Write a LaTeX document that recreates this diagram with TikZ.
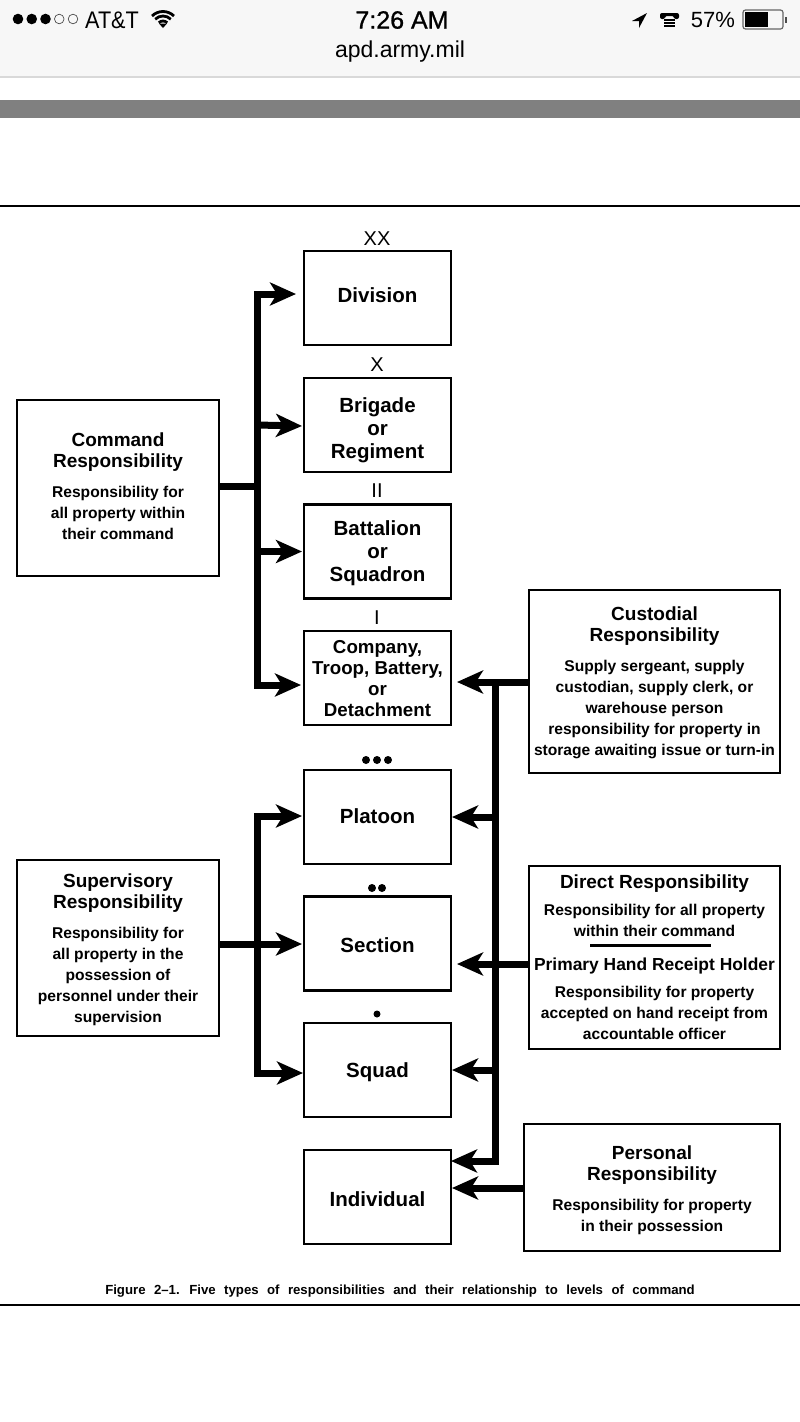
\documentclass[tikz,border=0pt]{standalone}
\usepackage{fontspec}
\setmainfont{Liberation Sans}
\newfontfamily\capfont[WordSpace=2.3]{Liberation Sans}
\newfontfamily\clockfont[FakeBold=1]{Liberation Sans}
\usetikzlibrary{positioning,arrows.meta}
\newcommand{\hd}{\fontsize{19}{21}\selectfont\bfseries}
\newcommand{\nudgedown}[1]{\rule{0pt}{#1pt}}
\newcommand{\nudgeup}[1]{\rule[-#1pt]{0pt}{#1pt}}
\begin{document}
\begin{tikzpicture}[x=1pt,y=-1pt,
  arr/.style={-{Stealth[length=26pt,width=23pt,inset=7pt]},line width=7pt},
  bar/.style={line width=7pt},
  level/.style={draw,line width=2.5pt,minimum width=147pt,minimum height=94pt,inner sep=0pt,outer sep=0pt,align=center,font=\fontsize{20.5}{23}\selectfont\bfseries},
  info/.style={draw,line width=2.5pt,inner sep=0pt,outer sep=0pt,align=center,font=\fontsize{15.6}{21}\selectfont\bfseries},
  rank/.style={font=\fontsize{20}{22}\selectfont},
  dot/.style={circle,fill,inner sep=0pt,minimum size=8pt},
  status/.style={inner sep=0pt}]
\useasboundingbox (0,0) rectangle (800,1422);
\fill[white] (0,0) rectangle (800,1422);
\fill[black!3] (0,0) rectangle (800,76);
\draw[black!15,line width=1.5pt] (0,77) -- (800,77);
\fill[black!50] (0,100) rectangle (800,118);
\draw[line width=2.5pt] (0,206) -- (800,206);
\draw[line width=2.5pt] (0,1305) -- (800,1305);
\foreach \i in {18,31.75,45.5} \fill (\i,19) circle (5.3);
\foreach \i in {59.25,73} \draw[line width=0.7pt,black!70] (\i,19) circle (4.8);
\node[status,font=\fontsize{24}{24}\selectfont,xscale=0.9] (carrier) at (112,20) {AT\&T};
\foreach \r in {6,11,15.5} \draw[line width=2.8pt] ([shift={(225:\r)}]163,27) arc[start angle=225,end angle=315,radius=\r];
\fill (163,28) -- (159,23.5) -- (167,23.5) -- cycle;
\node[status,font=\clockfont\fontsize{25}{25}\selectfont] (clock) at (402,20) {7:26 AM};
\node[status,font=\fontsize{23}{23}\selectfont] (site) at (400,52) {apd.army.mil};
\fill (647,13) -- (632,21) -- (639,21) -- (639,28) -- cycle;
\fill[rounded corners=2pt] (660,19) -- (660,13) -- (679,13) -- (679,19) -- (674,19) -- (674,16) -- (665,16) -- (665,19) -- cycle;
\fill (664,19) rectangle (675,27);
\foreach \i in {21.5,24.5} \draw[white,line width=0.8pt] (664,\i) -- (675,\i);
\node[status,font=\fontsize{22}{22}\selectfont] (charge) at (713,20) {57\%};
\draw[black!60,line width=1.2pt,rounded corners=2.5pt] (743,10) rectangle (783,29);
\fill (745,12) rectangle (768,27);
\fill[black!70] (785,17) rectangle (787,23);

\node[level] (division) at (377.5,298) {Division\nudgeup{6}};
\node[level] (brigade) at (377.5,425) {\nudgedown{25}Brigade\\or\\Regiment};
\node[level] (battalion) at (377.5,551.5) {\nudgedown{19}Battalion\\or\\Squadron};
\node[level,font=\fontsize{18.7}{21}\selectfont\bfseries] (company) at (377.5,678) {\nudgedown{14}Company,\\Troop, Battery,\\or\\Detachment};
\node[level] (platoon) at (377.5,817) {Platoon\nudgeup{2}};
\node[level] (section) at (377.5,943.5) {\nudgedown{19}Section};
\node[level] (squad) at (377.5,1070) {\nudgedown{19}Squad};
\node[level] (individual) at (377.5,1197) {\nudgedown{19}Individual};

\node[rank] (rankxx) at (377,239) {XX};
\node[rank] (rankx) at (377,365) {X};
\node[rank] (rankii) at (377,491) {II};
\node[rank] (ranki) at (377,618) {I};
\foreach \i in {366,377,388} \node[dot] (platoon\i) at (\i,760) {};
\foreach \i in {372,382} \node[dot] (section\i) at (\i,888) {};
\node[dot,minimum size=7pt] (squaddot) at (377,1014) {};

\node[info,minimum width=202pt,minimum height=176pt] (command) at (118,488) {\hd Command\\\hd Responsibility\\[9pt]Responsibility for\\all property within\\their command\nudgeup{3}};
\node[info,minimum width=202pt,minimum height=176pt] (supervisory) at (118,948) {\nudgedown{18}\hd Supervisory\\\hd Responsibility\\[9pt]Responsibility for\\all property in the\\possession of\\personnel under their\\supervision};
\node[info,minimum width=251pt,minimum height=183pt] (custodial) at (654.5,681.5) {\nudgedown{16}\hd Custodial\\\hd Responsibility\\[9pt]Supply sergeant, supply\\custodian, supply clerk, or\\warehouse person\\responsibility for property in\\storage awaiting issue or turn-in};
\node[info,minimum width=251pt,minimum height=183pt] (direct) at (654.5,957.5) {\hd Direct Responsibility\\[6pt]Responsibility for all property\\within their command\\[-10.5pt]\hspace*{-8pt}\rule{121pt}{3pt}\\[2.5pt]\fontsize{17.4}{21}\selectfont\bfseries Primary Hand Receipt Holder\\[6pt]Responsibility for property\\accepted on hand receipt from\\accountable officer};
\node[info,minimum width=256pt,minimum height=127pt] (personal) at (652,1187.5) {\nudgedown{20}\hd Personal\\\hd Responsibility\\[9pt]Responsibility for property\\in their possession};

\coordinate (cmdjoin) at (257,486);
\coordinate (supjoin) at (257,944);
\coordinate (cusjoin) at (495,682);
\draw[bar] (command.east |- cmdjoin) -- (cmdjoin);
\draw[arr] (cmdjoin) |- ([xshift=-8pt,yshift=4pt]division.west);
\draw[arr] (cmdjoin |- brigade.west) -- ([xshift=-2pt,yshift=-1pt]brigade.west);
\draw[arr] (cmdjoin |- battalion.west) -- ([xshift=-2pt]battalion.west);
\draw[arr] (cmdjoin) |- ([xshift=-3pt,yshift=-7pt]company.west);
\draw[arr] (supervisory.east |- supjoin) -- ([xshift=-2pt]section.west |- supjoin);
\draw[arr] (supjoin) |- ([xshift=-2pt,yshift=1pt]platoon.west);
\draw[arr] (supjoin) |- ([xshift=-1pt,yshift=-3pt]squad.west);
\draw[arr] (custodial.west |- cusjoin) -- ([xshift=6pt,yshift=-4pt]company.east);
\draw[arr] (cusjoin) -- ++(0,479) -- ([yshift=36pt]individual.east);
\draw[arr] (cusjoin |- platoon.east) -- ([xshift=1pt]platoon.east);
\draw[arr] (cusjoin |- squad.east) -- ([xshift=1pt]squad.east);
\draw[arr] (direct.west |- 0,964) -- ([xshift=6pt,yshift=-20.5pt]section.east);
\draw[arr] (personal.west |- 0,1188) -- ([xshift=1pt,yshift=9pt]individual.east);

\node[status,font=\capfont\fontsize{13.2}{15}\selectfont\bfseries] (caption) at (400,1291) {Figure 2–1. Five types of responsibilities and their relationship to levels of command};
\end{tikzpicture}
\end{document}
